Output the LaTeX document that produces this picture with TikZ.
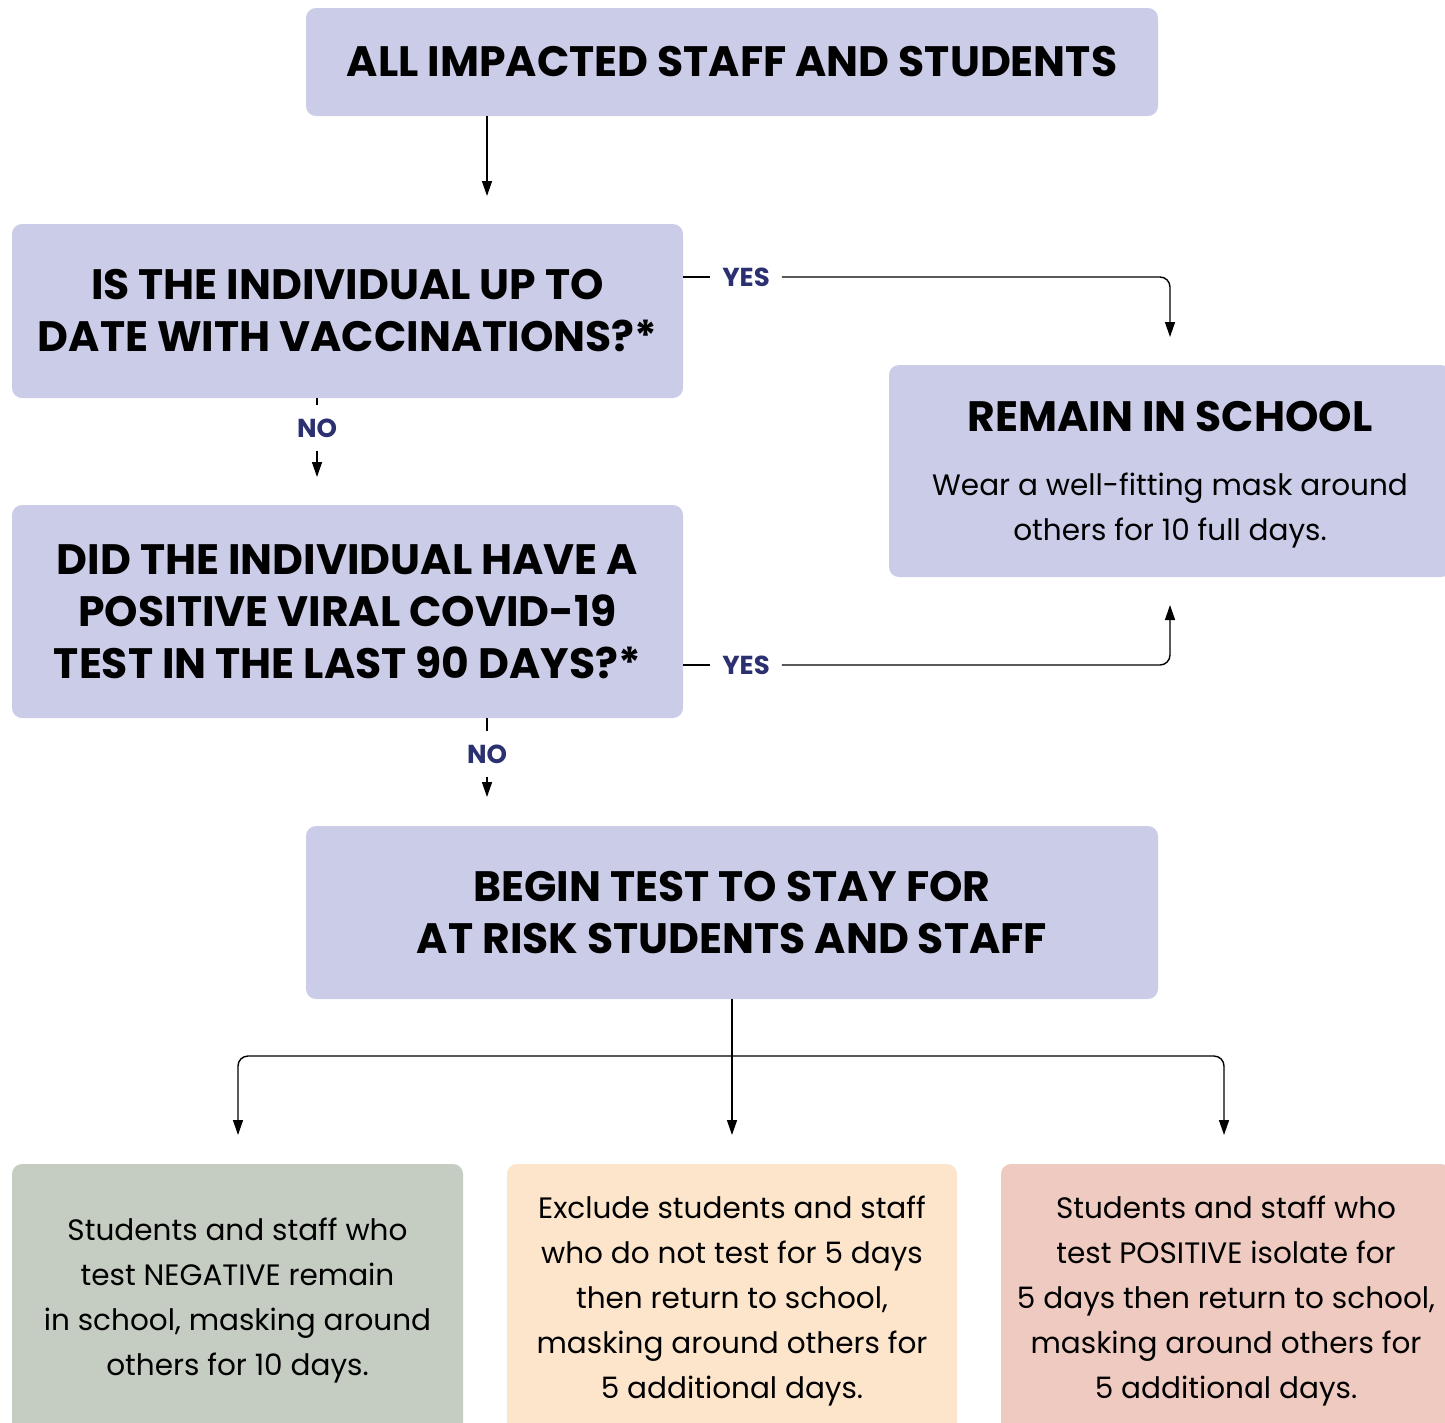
\documentclass[tikz,border=0pt]{standalone}
\usepackage{fontspec}
\setmainfont{Poppins}
\usetikzlibrary{arrows.meta}
\definecolor{lav}{HTML}{CBCCE8}
\definecolor{sage}{HTML}{C5CCC1}
\definecolor{peach}{HTML}{FDE5CC}
\definecolor{rose}{HTML}{EFCAC0}
\definecolor{navy}{HTML}{2B3070}
\begin{document}
\begin{tikzpicture}[x=1pt,y=-1pt,
  box/.style={fill=lav, rounded corners=10pt, inner sep=0pt, align=center, text=black},
  head/.style={font=\fontsize{42.5}{52}\selectfont\bfseries},
  body/.style={font=\fontsize{29.5}{45}\selectfont},
  lbl/.style={font=\fontsize{26}{26}\selectfont\bfseries, text=navy, inner xsep=12pt, inner ysep=13pt},
  ln/.style={line width=1.4pt, black},
  arr/.style={ln, -{Triangle[width=10pt,length=15pt]}}]
\useasboundingbox (0,0) rectangle (1445,1422);
\clip (0,0) rectangle (1445,1422);

\node[box, head, minimum width=852, minimum height=108] (top) at (732,62) {ALL IMPACTED STAFF AND STUDENTS};
\node[box, head, minimum width=671, minimum height=174] (q1) at (347.5,311) {IS THE INDIVIDUAL UP TO\\DATE WITH VACCINATIONS?*};
\node[box, head, minimum width=671, minimum height=213] (q2) at (347.5,611.5) {DID THE INDIVIDUAL HAVE A\\POSITIVE VIRAL COVID-19\\TEST IN THE LAST 90 DAYS?*};
\node[box, minimum width=562, minimum height=212] (rem) at (1170,471) {};
\node[head] (remt) at (1170,417) {REMAIN IN SCHOOL};
\node[body, align=center] (remb) at (1170,511) {Wear a well-fitting mask around\\others for 10 full days.};
\node[box, head, minimum width=852, minimum height=173] (beg) at (732,912.5) {BEGIN TEST TO STAY FOR\\AT RISK STUDENTS AND STAFF};
\node[box, body, fill=sage, minimum width=451, minimum height=274] (neg) at (237.5,1301) {Students and staff who\\test NEGATIVE remain\\in school, masking around\\others for 10 days.};
\node[box, body, fill=peach, minimum width=450, minimum height=274] (exc) at (732,1301) {Exclude students and staff\\who do not test for 5 days\\then return to school,\\masking around others for\\5 additional days.};
\node[box, body, fill=rose, minimum width=450, minimum height=274] (pos) at (1226,1301) {Students and staff who\\test POSITIVE isolate for\\5 days then return to school,\\masking around others for\\5 additional days.};

\node[lbl] (yes1) at (746,277) {YES};
\node[lbl] (yes2) at (746,665) {YES};
\node[lbl] (no1) at (317,428) {NO};
\node[lbl] (no2) at (487,754) {NO};

\coordinate (c1) at (487,196);
\coordinate (c2) at (1170,337);
\coordinate (c3) at (317,477);
\coordinate (c4) at (1170,605);
\coordinate (c5) at (487,797);
\coordinate (c6) at (238,1135);
\coordinate (c7) at (732,1135);
\coordinate (c8) at (1224,1135);
\coordinate (hb) at (732,1056);

\draw[arr] (top.south -| c1) -- (c1);
\draw[ln] (q1.east |- yes1) -- (yes1.west);
\draw[arr, rounded corners=10pt] (yes1.east) -| (c2);
\draw[ln] (q1.south -| no1) -- (no1.north);
\draw[arr] (no1.south) -- (c3);
\draw[ln] (q2.east |- yes2) -- (yes2.west);
\draw[arr, rounded corners=10pt] (yes2.east) -| (c4);
\draw[ln] (q2.south -| no2) -- (no2.north);
\draw[arr] (no2.south) -- (c5);
\draw[arr] (beg.south) -- (c7);
\draw[arr, rounded corners=10pt] (hb) -| (c6);
\draw[arr, rounded corners=10pt] (hb) -| (c8);
\end{tikzpicture}
\end{document}
